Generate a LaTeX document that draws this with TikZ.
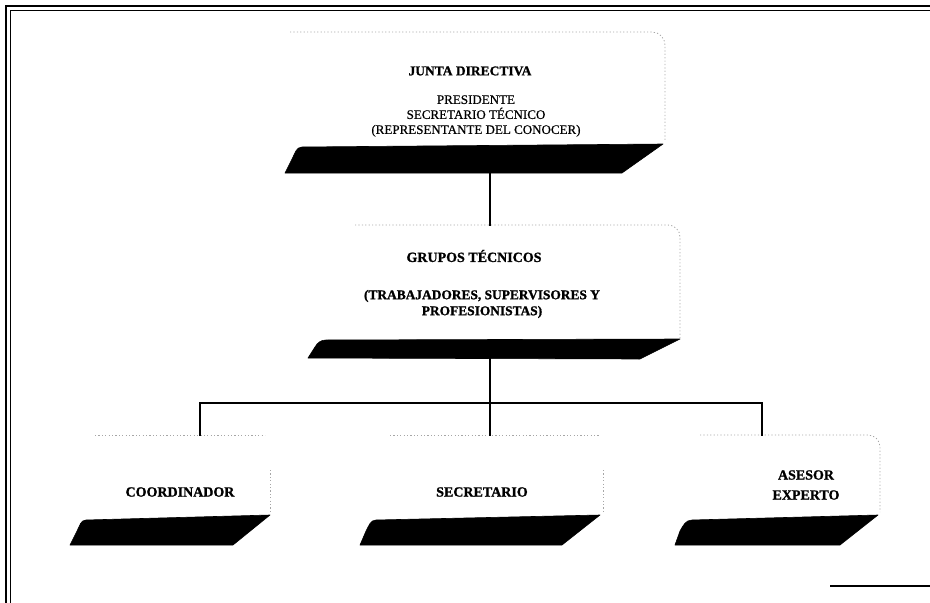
\documentclass[tikz,border=0pt]{standalone}
\usepackage{fontspec}
\setmainfont{Liberation Serif}
\newfontfamily\heavyfont{Liberation Serif Bold}[FakeBold=1.2]
\newfontfamily\midfont{Liberation Serif}[FakeBold=0.6]
\begin{document}
\begin{tikzpicture}[x=1pt,y=-1pt,
  box/.style={draw=none,inner sep=0pt,outer sep=0pt},
  lbl/.style={font=\fontsize{14}{16}\selectfont\heavyfont,align=center,inner sep=1pt},
  sub/.style={font=\fontsize{13}{15}\selectfont\midfont,align=center,inner sep=1pt},
  slab/.style={fill=black,draw=black,line width=0.6pt,line join=round},
  edge/.style={draw=gray!70,line width=0.8pt,dash pattern=on 1.2pt off 2.2pt},
  conn/.style={draw=black,line width=2.4pt,line cap=rect}]
\useasboundingbox (0,0) rectangle (930,603);
% frame
\draw[line width=1.3pt] (6,603) -- (6,6) -- (930,6);
\draw[line width=0.8pt] (10,603) -- (10,10) -- (930,10);
\draw[line width=1.2pt] (830,586) -- (930,586);

% ---- boxes (invisible areas)
\node[box,minimum width=378pt,minimum height=142pt] (junta) at (476,103) {};
\node[box,minimum width=372pt,minimum height=133pt] (grupos) at (494,291) {};
\node[box,minimum width=200pt,minimum height=110pt] (coord) at (170,490) {};
\node[box,minimum width=240pt,minimum height=110pt] (secre) at (480,490) {};
\node[box,minimum width=205pt,minimum height=110pt] (asesor) at (777,490) {};

% ---- dotted outlines
\draw[edge] (290,32) -- (652,32) to[out=0,in=90] (665,45) -- (665,140);
\draw[edge] (355,225) -- (668,225) to[out=0,in=90] (680,237) -- (680,338);
\draw[edge] (95,435) -- (265,435);
\draw[edge] (270,470) -- (270,512);
\draw[edge] (390,435) -- (600,435);
\draw[edge] (603,470) -- (603,512);
\draw[edge] (700,435) -- (868,435) to[out=0,in=90] (880,447) -- (880,512);

% ---- slabs
\draw[slab] (285,173) -- (292,159) to[out=60,in=180] (302,147) -- (663,144) -- (622,173) -- cycle;
\draw[slab] (308,358) -- (315,347) to[out=60,in=180] (326,340) -- (680,339) -- (640,359) -- cycle;
\draw[slab] (70,545) -- (77,531) to[out=60,in=180] (86,520) -- (270,515) -- (233,545) -- cycle;
\draw[slab] (360,545) -- (366,531) to[out=60,in=180] (376,520) -- (600,515) -- (562,545) -- cycle;
\draw[slab] (675,545) -- (680,531) to[out=60,in=180] (692,520) -- (878,515) -- (840,545) -- cycle;

% ---- texts
\node[lbl,font=\fontsize{13.5}{16}\selectfont\heavyfont] (t1) at (470,71) {JUNTA DIRECTIVA};
\node[sub] (t2) at (476,116) {PRESIDENTE\\SECRETARIO TÉCNICO\\(REPRESENTANTE DEL CONOCER)};
\node[lbl] (t3) at (474,256) {GRUPOS TÉCNICOS};
\node[lbl,font=\fontsize{13.4}{16}\selectfont\heavyfont] (t4) at (482,304) {(TRABAJADORES, SUPERVISORES Y\\PROFESIONISTAS)};
\node[lbl] (t5) at (180,492) {COORDINADOR};
\node[lbl] (t6) at (482,492) {SECRETARIO};
\node[lbl,font=\fontsize{14}{20}\selectfont\heavyfont] (t7) at (806,485) {ASESOR\\EXPERTO};

% ---- connectors
\coordinate (bus) at (490,403);
\coordinate (busL) at (200,403);
\coordinate (busR) at (762,403);
\draw[conn] (junta.south -| bus) -- (grupos.north -| bus);
\draw[conn] (grupos.south -| bus) -- (bus);
\draw[conn] (busL) -- (busR);
\draw[conn] (busL) -- (coord.north -| busL);
\draw[conn] (bus) -- (secre.north -| bus);
\draw[conn] (busR) -- (asesor.north -| busR);
\end{tikzpicture}
\end{document}
